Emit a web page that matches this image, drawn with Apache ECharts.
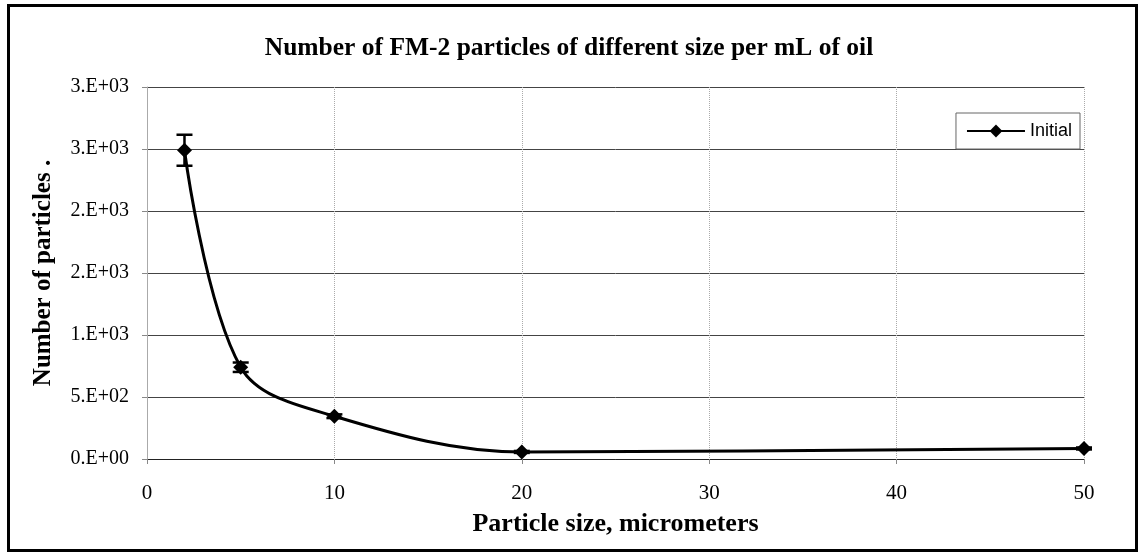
<!DOCTYPE html>
<html>
<head>
<meta charset="utf-8">
<script src="https://cdn.jsdelivr.net/npm/echarts@6/dist/echarts.min.js"></script>
<style>
  html, body { margin: 0; padding: 0; background: #fff; }
  #main { width: 1141px; height: 559px; }
</style>
</head>
<body>
<div id="main"></div>
<script>
let sizes = [2, 5, 10, 20, 50];
let counts = [2490, 740, 345, 57, 85];
let errors = [125, 38, 15, 8, 8];
let xTicks = [0, 10, 20, 30, 40, 50];
let yTicks = [0, 500, 1000, 1500, 2000, 2500, 3000];

let dom = document.getElementById("main");
let myChart = echarts.init(dom, null, { renderer: "canvas" });

// Excel style "0.E+00" number format
function sciLabel(v) {
    if (v === 0) return "0.E+00";
    let e = Math.floor(Math.log10(v));
    let m = Math.round(v / Math.pow(10, e));
    if (m === 10) { m = 1; e += 1; }
    let es = (e < 10 ? "0" : "") + e;
    return m + ".E+" + es;
}

let points = sizes.map((s, i) => [s, counts[i]]);
let bars = sizes.map((s, i) => [s, counts[i] - errors[i], counts[i] + errors[i]]);

let serif = "Liberation Serif";

let option = {
    animation: false,
    backgroundColor: "#fff",
    title: {
        text: "Number of FM-2 particles of different size per mL of oil",
        left: 564,
        textAlign: "center",
        top: 30,
        textStyle: { fontFamily: serif, fontWeight: "bold", fontSize: 25.5, color: "#000" },
    },
    graphic: [{
        type: "rect",
        shape: { x: 8.5, y: 5.5, width: 1128, height: 545 },
        style: { fill: "none", stroke: "#000", lineWidth: 3 },
    }],
    legend: {
        data: ["Initial"],
        right: 1141 - 1080,
        top: 113,
        orient: "vertical",
        borderColor: "#666",
        borderWidth: 1,
        borderRadius: 0,
        padding: [9, 8, 9, 10],
        itemWidth: 58,
        itemHeight: 16,
        itemGap: 4,
        textStyle: { fontFamily: "Liberation Sans", fontSize: 18, color: "#000" },
    },
    grid: { left: 147, right: 1141 - 1084, top: 87, bottom: 559 - 459 },
    xAxis: {
        type: "value",
        min: xTicks[0],
        max: xTicks[xTicks.length - 1],
        interval: 10,
        name: "Particle size, micrometers",
        nameLocation: "middle",
        nameGap: 52,
        nameTextStyle: { fontFamily: serif, fontWeight: "bold", fontSize: 26, color: "#000" },
        axisLine: { show: true, lineStyle: { color: "#222", width: 1 } },
        axisTick: { show: true, inside: false, length: 5, lineStyle: { color: "#888" } },
        axisLabel: { fontFamily: serif, fontSize: 21, color: "#000", margin: 24 },
        splitLine: { show: true, lineStyle: { color: "#aaa", type: "dotted", width: 1 } },
    },
    yAxis: {
        type: "value",
        min: yTicks[0],
        max: yTicks[yTicks.length - 1],
        interval: 500,
        name: "Number of particles .",
        nameLocation: "middle",
        nameGap: 91,
        nameRotate: 90,
        nameTextStyle: { fontFamily: serif, fontWeight: "bold", fontSize: 25, color: "#000" },
        axisLine: { show: true, lineStyle: { color: "#aaa", width: 1 } },
        axisTick: { show: true, length: 5, lineStyle: { color: "#888" } },
        axisLabel: { fontFamily: serif, fontSize: 20, color: "#000", margin: 18, formatter: sciLabel },
        splitLine: { show: true, lineStyle: { color: "#444", width: 1 } },
    },
    series: [
        {
            name: "Initial",
            type: "line",
            data: points,
            smooth: 0.35,
            symbol: "diamond",
            symbolSize: 15,
            itemStyle: { color: "#000" },
            lineStyle: { color: "#000", width: 3 },
            z: 3,
        },
        {
            name: "err",
            type: "custom",
            data: bars,
            z: 4,
            renderItem: function (params, api) {
                let x = api.value(0);
                let lo = api.coord([x, api.value(1)]);
                let hi = api.coord([x, api.value(2)]);
                let w = 8;
                let st = { stroke: "#000", lineWidth: 2.5 };
                return {
                    type: "group",
                    children: [
                        { type: "line", shape: { x1: lo[0], y1: lo[1], x2: hi[0], y2: hi[1] }, style: st },
                        { type: "line", shape: { x1: lo[0] - w, y1: lo[1], x2: lo[0] + w, y2: lo[1] }, style: st },
                        { type: "line", shape: { x1: hi[0] - w, y1: hi[1], x2: hi[0] + w, y2: hi[1] }, style: st },
                    ],
                };
            },
        },
    ],
};

myChart.setOption(option);
window.addEventListener("resize", myChart.resize);
</script>
</body>
</html>
